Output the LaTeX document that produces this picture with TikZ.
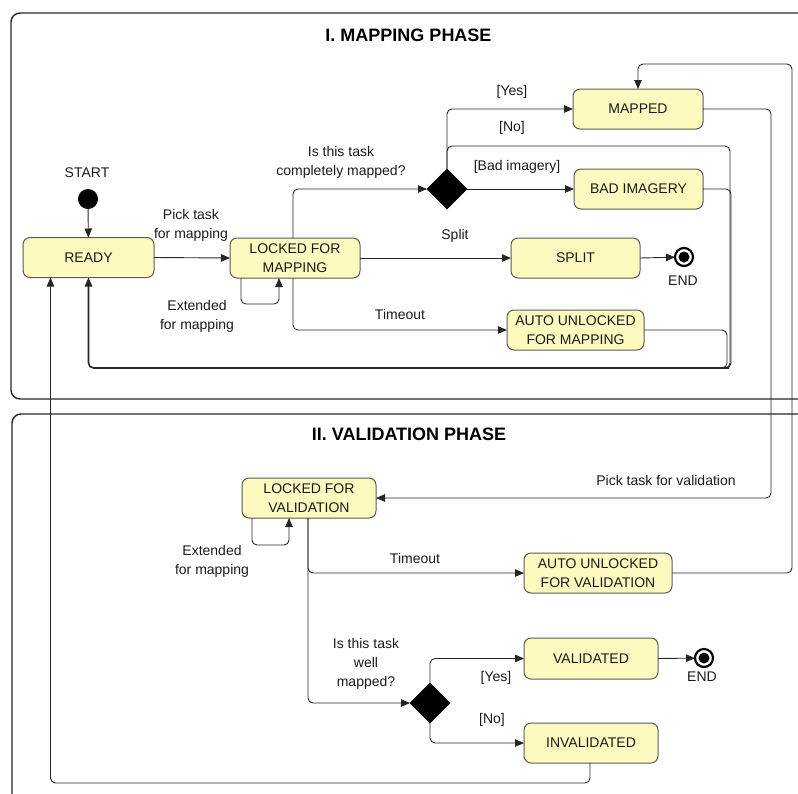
\documentclass[tikz,border=0pt]{standalone}
\usepackage{fontspec}
\setmainfont{Liberation Sans}
\usetikzlibrary{arrows.meta,shapes.geometric}
\definecolor{statefill}{HTML}{FCFABE}
\definecolor{stateline}{HTML}{5A5A5A}
\definecolor{txt}{HTML}{1A1A1A}
\begin{document}
\begin{tikzpicture}[x=1pt,y=-1pt,
  every node/.style={font=\fontsize{14}{19}\selectfont,text=txt,inner sep=0pt,outer sep=0pt},
  state/.style={draw=stateline,fill=statefill,line width=1pt,rounded corners=7pt,align=center,
    minimum height=40pt},
  choice/.style={diamond,fill=black,draw=black,minimum width=40pt,minimum height=40pt},
  lbl/.style={align=center},
  title/.style={font=\fontsize{18}{20}\selectfont\bfseries,text=black},
  frame/.style={draw=black!85,line width=1.4pt,rounded corners=9pt},
  arr/.style={draw=black!85,line width=0.9pt,rounded corners=5pt,-{Triangle[length=9pt,width=7.5pt]}},
  ln/.style={draw=black!85,line width=0.9pt,rounded corners=5pt},
  endpt/.style={circle,draw=black,line width=2.2pt,minimum size=18pt,fill=white,
    path picture={\fill[black] (path picture bounding box.center) circle (5.5pt);}}]
\useasboundingbox (0,0) rectangle (798,793);
\clip (0,0) rectangle (798,793);

% phase frames
\draw[frame] (11,13) rectangle (820,399);
\draw[frame] (12,414) rectangle (820,820);
\node[title] (t1) at (408.5,35) {I. MAPPING PHASE};
\node[title] (t2) at (409,434) {II. VALIDATION PHASE};

% ---------- mapping phase ----------
\node[circle,fill=black,minimum size=20pt] (start) at (88,199) {};
\node (startlbl) at (87,173) {START};
\node[state,minimum width=131pt] (ready) at (88.5,257.5) {READY};
\node[state,minimum width=130pt] (lockm) at (295,258) {LOCKED FOR\\MAPPING};
\node[choice] (d1) at (447,189) {};
\node[state,minimum width=130pt] (mapped) at (638,109) {MAPPED};
\node[state,minimum width=129pt] (bad) at (638.5,189) {BAD IMAGERY};
\node[state,minimum width=129pt] (split) at (575.5,258) {SPLIT};
\node[state,minimum width=137pt] (autom) at (575.5,330) {AUTO UNLOCKED\\FOR MAPPING};
\node[endpt] (end1) at (684,257) {};
\node (end1lbl) at (683,281) {END};
\coordinate (merge) at (729,368);

\draw[arr] (start) -- (ready);
\draw[arr] (ready.east) -- (lockm.west);
\node[lbl] (l1) at (191,225) {Pick task\\for mapping};
\draw[arr] ([xshift=-54pt]lockm.south) -- ++(0,26) -| ([xshift=-16pt]lockm.south);
\node[lbl] (l2) at (197,316) {Extended\\for mapping};
\draw[arr] ([xshift=-2pt]lockm.north) |- (d1.west);
\node[lbl] (l3) at (341,162) {Is this task\\completely mapped?};
\draw[arr] (lockm.east) -- (split.west);
\node (l4) at (455,236) {Split};
\draw[arr] ([xshift=-2pt]lockm.south) |- (autom.west);
\node (l5) at (400,314) {Timeout};
\draw[arr] (d1.north) |- (mapped.west);
\node (l6) at (512,92) {[Yes]};
\draw[ln] (d1.north) |- (730,146) -- (730,368) -- (700,368);
\node (l7) at (512,128) {[No]};
\draw[arr] (d1.east) -- (bad.west);
\node (l8) at (517,167) {[Bad imagery]};
\draw[ln] (bad.east) -| (731,368) -- (700,368);
\draw[ln] (autom.east) -| (727,368) -- (700,368);
% shared return path to READY
\draw[arr,line width=1.6pt] (merge) -| (ready.south);
\draw[arr] (split.east) -- (end1);

% ---------- validation phase ----------
\node[state,minimum width=134pt] (lockv) at (309,498) {LOCKED FOR\\VALIDATION};
\node[state,minimum width=148pt] (autov) at (598,573) {AUTO UNLOCKED\\FOR VALIDATION};
\node[choice] (d2) at (430,703) {};
\node[state,minimum width=134pt,minimum height=41pt] (valid) at (591,658.5) {VALIDATED};
\node[state,minimum width=134pt] (inval) at (591,743) {INVALIDATED};
\node[endpt] (end2) at (704,658) {};
\node (end2lbl) at (702,677) {END};

\draw[arr] (mapped.east) -| (771,300) |- (lockv.east);
\node (l9) at (666,480) {Pick task for validation};
\draw[arr] (autov.east) -| (792,64) -| (mapped.north);
\draw[arr] ([xshift=-57pt]lockv.south) -- ++(0,27) -| ([xshift=-20pt]lockv.south);
\node[lbl] (l10) at (212,561) {Extended\\for mapping};
\draw[arr] ([xshift=-1pt]lockv.south) |- (autov.west);
\node (l11) at (415,558) {Timeout};
\draw[arr] ([xshift=-1pt]lockv.south) |- (d2.west);
\node[lbl] (l12) at (366,664) {Is this task\\well\\mapped?};
\draw[arr] (d2.north) |- (valid.west);
\node (l13) at (496,678) {[Yes]};
\draw[arr] (d2.south) |- (inval.west);
\node (l14) at (492,720) {[No]};
\draw[arr] (valid.east) -- (end2);
\draw[arr] ([xshift=-1pt]inval.south) |- (300,783) -| ([xshift=-38pt]ready.south);
\end{tikzpicture}
\end{document}
